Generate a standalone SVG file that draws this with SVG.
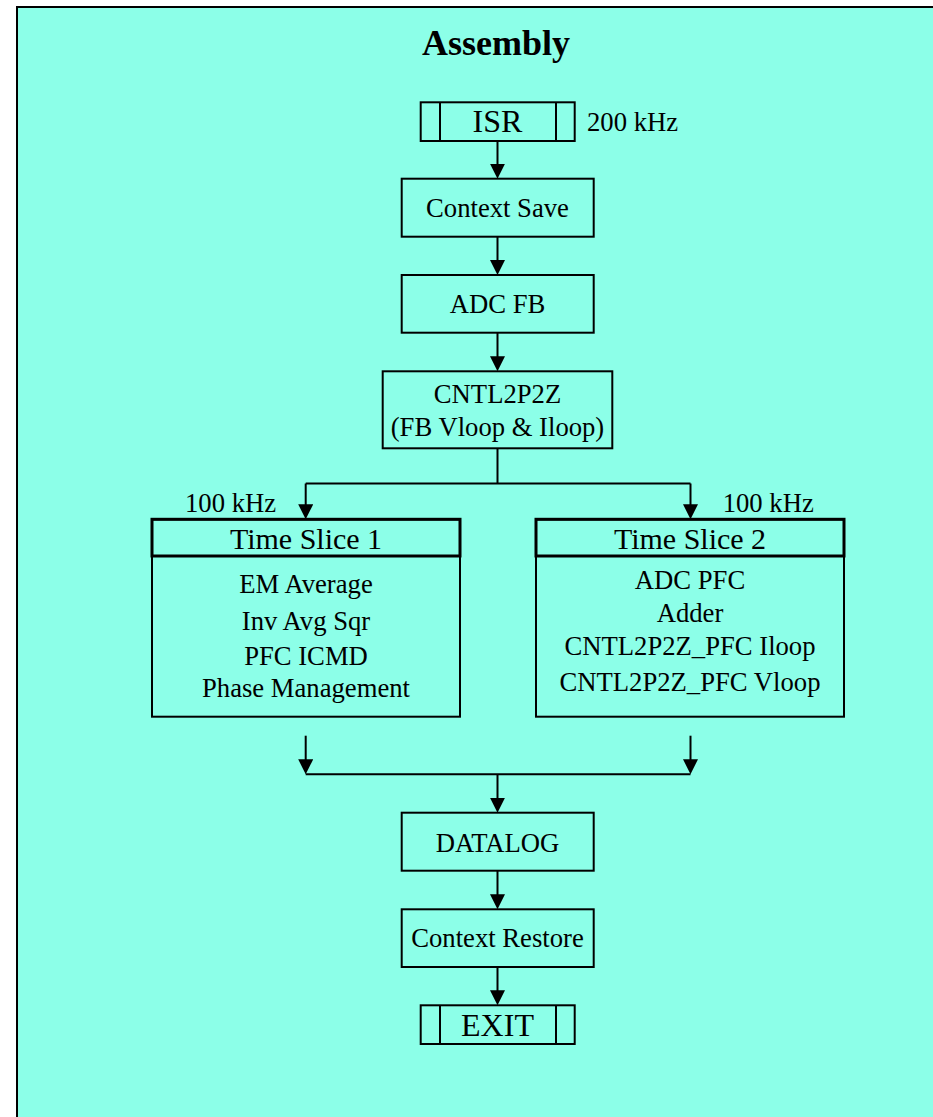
<svg xmlns="http://www.w3.org/2000/svg" width="933" height="1117" viewBox="0 0 933 1117">
<defs>
<marker id="arr" markerUnits="userSpaceOnUse" markerWidth="16" markerHeight="16" refX="11" refY="7.5" orient="auto" viewBox="0 0 16 16">
<path d="M0,0 L15,7.5 L0,15 z" fill="#000"/>
</marker>
<style>
.t{font-family:"Liberation Serif","Times New Roman",serif;fill:#000;text-anchor:middle;}
.b{fill:none;stroke:#000;stroke-width:2;}
.c{fill:none;stroke:#000;stroke-width:2;}
.a{fill:none;stroke:#000;stroke-width:2;marker-end:url(#arr);}
.s{font-size:26.67px;}
.m{font-size:30px;}
.l{font-size:32px;}
</style>
</defs>
<rect x="0" y="0" width="933" height="1117" fill="#ffffff"/>
<rect id="frame" x="17" y="7" width="1000" height="1200" fill="#8CFFE8" stroke="#000" stroke-width="2"/>
<text class="t" x="496" y="55" style="font-size:36px;font-weight:bold">Assembly</text>

<g id="connectors">
<line class="a" x1="497.5" y1="141" x2="497.5" y2="174.7"/>
<line class="a" x1="497.5" y1="236.7" x2="497.5" y2="271"/>
<line class="a" x1="497.5" y1="332.7" x2="497.5" y2="367.3"/>
<polyline class="c" points="497.5,448.3 497.5,483.5"/>
<polyline class="c" points="305.7,483.5 690.5,483.5"/>
<line class="a" x1="305.7" y1="483.5" x2="305.7" y2="515.3"/>
<line class="a" x1="690.5" y1="483.5" x2="690.5" y2="515.3"/>
<line class="a" x1="305.7" y1="735.7" x2="305.7" y2="770.3"/>
<line class="a" x1="690.5" y1="735.7" x2="690.5" y2="770.3"/>
<polyline class="c" points="305.7,774.3 690.5,774.3"/>
<line class="a" x1="497.5" y1="774.3" x2="497.5" y2="808.7"/>
<line class="a" x1="497.5" y1="870.7" x2="497.5" y2="905.3"/>
<line class="a" x1="497.5" y1="967" x2="497.5" y2="1001.3"/>
</g>

<g id="isr">
<rect class="b" x="420.7" y="102.3" width="154" height="38.7"/>
<line class="b" x1="440" y1="102.3" x2="440" y2="141"/>
<line class="b" x1="556" y1="102.3" x2="556" y2="141"/>
<text class="t l" x="497.5" y="132">ISR</text>
</g>
<text id="isr-rate" class="t s" x="587" y="131" style="text-anchor:start">200 kHz</text>

<g id="context-save">
<rect class="b" x="401.7" y="178.7" width="192" height="58"/>
<text class="t s" x="497.5" y="216.7">Context Save</text>
</g>

<g id="adc-fb">
<rect class="b" x="401.7" y="275" width="192" height="57.7"/>
<text class="t s" x="497.5" y="313.3">ADC FB</text>
</g>

<g id="cntl2p2z">
<rect class="b" x="382.7" y="371.3" width="229.6" height="77"/>
<text class="t s" x="497.5" y="403.3">CNTL2P2Z</text>
<text class="t s" x="497.5" y="436">(FB Vloop &amp; Iloop)</text>
</g>

<g id="time-slice-1">
<text class="t s" x="185" y="511.7" style="text-anchor:start">100 kHz</text>
<rect class="b" x="152" y="519.3" width="308" height="197.4"/>
<rect x="152" y="519.3" width="308" height="36.7" fill="none" stroke="#000" stroke-width="3"/>
<text class="t m" x="306" y="548.7">Time Slice 1</text>
<text class="t s" x="306" y="592.7">EM Average</text>
<text class="t s" x="306" y="630">Inv Avg Sqr</text>
<text class="t s" x="306" y="665">PFC ICMD</text>
<text class="t s" x="306" y="697">Phase Management</text>
</g>

<g id="time-slice-2">
<text class="t s" x="722.7" y="511.7" style="text-anchor:start">100 kHz</text>
<rect class="b" x="536" y="519.3" width="308" height="197.4"/>
<rect x="536" y="519.3" width="308" height="36.7" fill="none" stroke="#000" stroke-width="3"/>
<text class="t m" x="690" y="548.7">Time Slice 2</text>
<text class="t s" x="690" y="589.3">ADC PFC</text>
<text class="t s" x="690" y="621.7">Adder</text>
<text class="t s" x="690" y="655">CNTL2P2Z_PFC Iloop</text>
<text class="t s" x="690" y="690.7">CNTL2P2Z_PFC Vloop</text>
</g>

<g id="datalog">
<rect class="b" x="401.7" y="812.7" width="192" height="58"/>
<text class="t s" x="497.5" y="851.7">DATALOG</text>
</g>

<g id="context-restore">
<rect class="b" x="401.7" y="909.3" width="192" height="57.7"/>
<text class="t s" x="497.5" y="947.3">Context Restore</text>
</g>

<g id="exit">
<rect class="b" x="420.7" y="1005.3" width="154" height="38.7"/>
<line class="b" x1="440" y1="1005.3" x2="440" y2="1044"/>
<line class="b" x1="556" y1="1005.3" x2="556" y2="1044"/>
<text class="t l" x="497.5" y="1036">EXIT</text>
</g>
</svg>
